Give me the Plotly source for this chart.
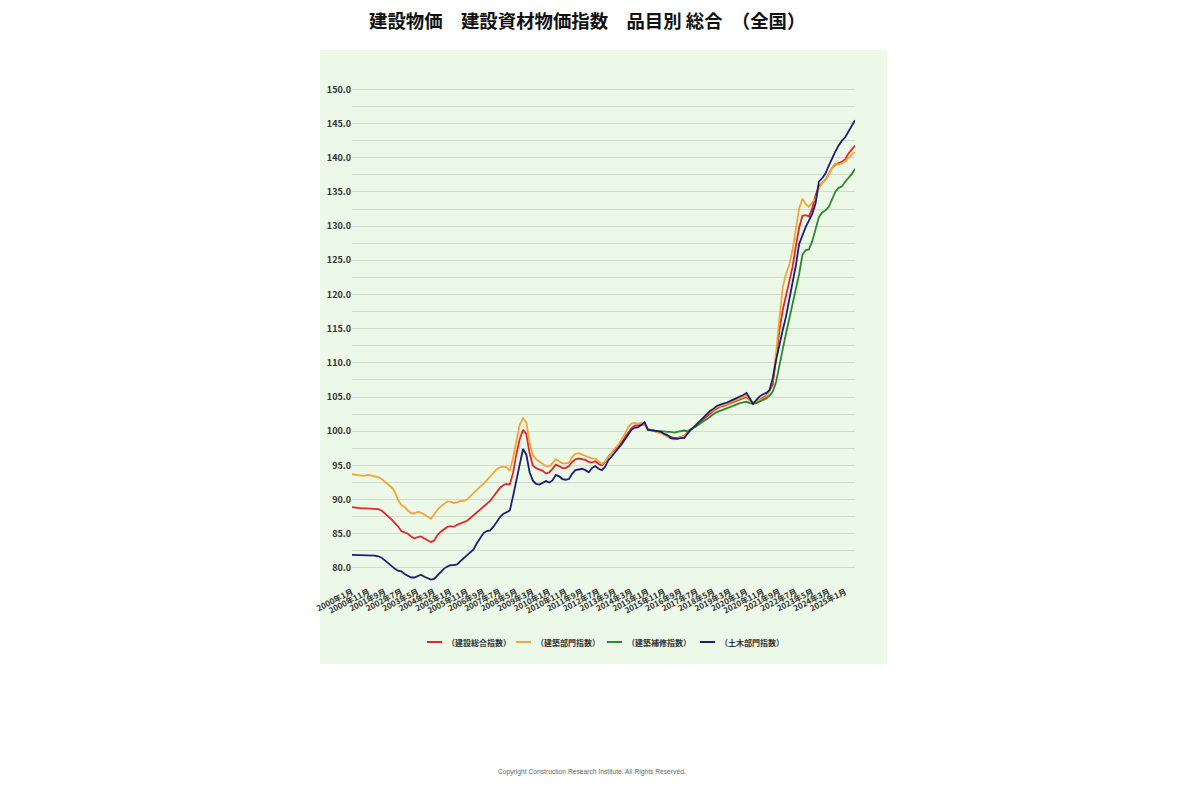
import re
import pandas as pd
import plotly.graph_objects as go

# ---------------- data (bi-monthly readings, 2000年1月 .. 2025年7月) ----------------
START = "2000-01-01"
END = "2025-07-01"
GREEN_START = "2015-01-01"

TITLE = "建設物価　建設資材物価指数　品目別 総合　（全国）"
SERIES_NAMES = ["（建設総合指数）", "（建築部門指数）", "（建築補修指数）", "（土木部門指数）"]

sogo = [
    88.9, 88.8, 88.7, 88.7, 88.7, 88.7, 88.7, 88.7, 88.6, 88.4,
    88.0, 87.5, 87.1, 86.6, 86.1, 85.4, 85.2, 85.0, 84.6, 84.3,
    84.5, 84.6, 84.3, 84.1, 83.8, 84.0, 84.8, 85.3, 85.7, 86.0,
    86.1, 86.0, 86.3, 86.5, 86.7, 86.9, 87.3, 87.7, 88.1, 88.5,
    89.0, 89.4, 89.8, 90.4, 91.1, 91.7, 92.1, 92.3, 92.2, 93.9,
    96.6, 98.8, 100.2, 99.6, 96.8, 95.0, 94.6, 94.4, 94.2, 93.8,
    94.0, 94.5, 95.1, 94.9, 94.6, 94.6, 94.9, 95.5, 95.9, 96.0,
    95.9, 95.8, 95.5, 95.4, 95.6, 95.2, 95.0, 95.5, 96.3, 96.8,
    97.3, 97.8, 98.4, 99.1, 99.8, 100.4, 100.8, 100.9, 101.0, 101.0,
    100.3, 100.2, 100.1, 99.9, 99.8, 99.5, 99.3, 99.1, 99.0, 99.0,
    99.1, 99.3, 99.8, 100.2, 100.6, 101.0, 101.4, 101.9, 102.3, 102.6,
    103.0, 103.3, 103.6, 103.7, 103.9, 104.1, 104.3, 104.4, 104.6, 104.8,
    105.0, 104.5, 104.1, 104.3, 104.6, 104.9, 105.2, 105.9, 106.8, 110.8,
    114.8, 117.7, 119.8, 121.6, 124.0, 127.0, 129.8, 131.5, 131.6, 131.4,
    132.6, 134.5, 135.8, 136.3, 136.8, 137.6, 138.5, 139.0, 139.2, 139.4,
    139.8, 140.6, 141.2, 141.8,
]

kenchiku = [
    93.7, 93.6, 93.5, 93.5, 93.5, 93.6, 93.5, 93.4, 93.3, 93.0,
    92.6, 92.2, 91.8, 91.2, 90.0, 89.2, 88.9, 88.4, 88.0, 88.0,
    88.2, 88.1, 87.8, 87.6, 87.2, 87.8, 88.5, 89.0, 89.4, 89.7,
    89.7, 89.5, 89.6, 89.8, 89.8, 90.0, 90.5, 91.0, 91.4, 91.9,
    92.3, 92.8, 93.4, 93.9, 94.4, 94.7, 94.8, 94.7, 94.2, 96.1,
    98.8, 100.9, 101.9, 101.3, 98.3, 96.5, 95.9, 95.5, 95.2, 94.9,
    94.9, 95.3, 95.9, 95.6, 95.3, 95.3, 95.4, 96.2, 96.7, 96.8,
    96.6, 96.4, 96.1, 96.0, 96.0, 95.6, 95.2, 95.6, 96.3, 96.9,
    97.5, 98.0, 98.8, 99.6, 100.6, 101.1, 101.2, 101.1, 101.2, 101.0,
    100.4, 100.2, 100.0, 99.8, 99.7, 99.4, 99.2, 98.9, 98.8, 98.9,
    99.1, 99.3, 99.8, 100.3, 100.7, 101.1, 101.6, 102.1, 102.5, 102.8,
    103.2, 103.5, 103.7, 103.8, 104.0, 104.2, 104.4, 104.6, 104.8, 104.9,
    105.2, 104.6, 104.2, 104.4, 104.5, 104.7, 105.0, 106.0, 107.5, 111.5,
    116.5, 121.0, 123.0, 124.3, 126.5, 129.4, 132.6, 134.0, 133.2, 132.8,
    133.5, 134.0, 135.5, 136.3, 136.8, 137.5, 138.5, 139.2, 139.0, 139.2,
    139.5, 140.0, 140.5, 140.8,
]

hoshu = [
    100.2, 100.1, 100.1, 100.0, 100.0, 99.9, 99.9, 99.9, 99.8, 99.9,
    100.0, 100.1, 100.0, 100.2, 100.5, 100.8, 101.2, 101.5, 101.8, 102.2,
    102.5, 102.8, 103.0, 103.2, 103.4, 103.6, 103.8, 104.0, 104.1, 104.2,
    104.3, 104.1, 104.0, 104.1, 104.3, 104.6, 104.8, 105.2, 105.8, 107.2,
    109.8, 112.0, 114.3, 116.3, 118.5, 120.6, 123.0, 125.8, 126.5, 126.6,
    127.8, 129.5, 131.3, 132.0, 132.3, 132.8, 134.0, 135.0, 135.6, 135.8,
    136.5, 137.0, 137.6, 138.4,
]

doboku = [
    81.9, 81.9, 81.9, 81.8, 81.9, 81.8, 81.8, 81.8, 81.7, 81.5,
    81.1, 80.7, 80.2, 79.9, 79.6, 79.5, 79.1, 78.8, 78.6, 78.6,
    78.8, 79.0, 78.7, 78.5, 78.3, 78.4, 78.9, 79.5, 79.9, 80.2,
    80.4, 80.4, 80.5, 81.0, 81.4, 81.8, 82.2, 82.7, 83.6, 84.4,
    85.1, 85.4, 85.5, 86.0, 86.8, 87.4, 87.9, 88.2, 88.4, 90.5,
    92.8, 94.9, 97.4, 96.6, 94.0, 92.8, 92.3, 92.2, 92.5, 92.7,
    92.5, 92.8, 93.6, 93.4, 93.0, 92.9, 93.0, 93.8, 94.3, 94.4,
    94.5, 94.3, 94.0, 94.6, 94.9, 94.5, 94.3, 94.8, 95.8, 96.3,
    96.9, 97.4, 98.1, 98.8, 99.6, 100.2, 100.5, 100.6, 100.9, 101.3,
    100.2, 100.2, 100.1, 100.0, 99.9, 99.6, 99.4, 99.0, 98.9, 98.9,
    99.0, 99.0, 99.6, 100.2, 100.6, 101.1, 101.6, 102.1, 102.6, 103.0,
    103.3, 103.7, 103.9, 104.0, 104.2, 104.4, 104.6, 104.8, 105.0, 105.3,
    105.6, 104.8, 104.0, 104.6, 105.1, 105.4, 105.6, 106.0, 107.8, 110.4,
    112.8, 114.8, 116.8, 119.2, 121.6, 124.2, 127.4, 128.8, 129.9, 130.8,
    131.8, 133.3, 136.5, 137.0, 137.7, 138.8, 139.9, 140.9, 141.8, 142.5,
    143.0, 143.8, 144.7, 145.5,
]

TICK_LABELS = [
    "2000年1月", "2000年11月", "2001年9月", "2002年7月", "2003年5月", "2004年3月",
    "2005年1月", "2005年11月", "2006年9月", "2007年7月", "2008年5月", "2009年3月",
    "2010年1月", "2010年11月", "2011年9月", "2012年7月", "2013年5月", "2014年3月",
    "2015年1月", "2015年11月", "2016年9月", "2017年7月", "2018年5月", "2019年3月",
    "2020年1月", "2020年11月", "2021年9月", "2022年7月", "2023年5月", "2024年3月",
    "2025年1月",
]

Y_TICKS = [77.5 + 2.5 * k for k in range(30)]

COLORS = ["#e0282c", "#f2a634", "#2a8a2a", "#1b1f72"]

# ---------------- figure ----------------
dates = pd.date_range(START, END, freq="2MS")
green_dates = pd.date_range(GREEN_START, END, freq="2MS")

def label_to_date(s):
    y, m = re.match(r"(\d+)年(\d+)月", s).groups()
    return f"{int(y):04d}-{int(m):02d}-01"

tickvals = [label_to_date(s) for s in TICK_LABELS]

fig = go.Figure()
series = [(dates, sogo), (dates, kenchiku), (green_dates, hoshu), (dates, doboku)]
for (xs, ys), name, col in zip(series, SERIES_NAMES, COLORS):
    fig.add_trace(go.Scatter(x=xs, y=ys, name=name, mode="lines", showlegend=False,
                             line=dict(color=col, width=1.8)))

# page has an 8px body margin; plot area on the page spans x 352..855, y 86..585
BODY = 8
W, H = 1200, 800
PLOT_L, PLOT_R, PLOT_T, PLOT_B = 352, 855, 86, 585
pw, ph = PLOT_R - PLOT_L, PLOT_B - PLOT_T
ML, MT = PLOT_L - BODY, PLOT_T - BODY
MR, MB = W - ML - pw, H - MT - ph

def px_x(x):
    return (x - PLOT_L) / pw

def px_y(y):
    return (PLOT_B - y) / ph

fig.add_shape(type="rect", xref="paper", yref="paper",
              x0=px_x(320), x1=px_x(887), y0=px_y(664), y1=px_y(50),
              fillcolor="#edf9e8", line=dict(width=0), layer="below")

# title as an annotation
fig.add_annotation(text=TITLE, xref="paper", yref="paper",
                   x=px_x(587), y=px_y(20), showarrow=False,
                   xanchor="center", yanchor="middle",
                   font=dict(family="Noto Sans CJK JP, sans-serif", size=18.4,
                             color="#111111", weight=700))

# manual legend (short line samples like the reference)
LEG_Y = 642
LEG_LINE_X = [427, 516, 607, 700]
for lx, name, col in zip(LEG_LINE_X, SERIES_NAMES, COLORS):
    fig.add_shape(type="line", xref="paper", yref="paper",
                  x0=px_x(lx), x1=px_x(lx + 15), y0=px_y(LEG_Y), y1=px_y(LEG_Y),
                  line=dict(color=col, width=2))
    fig.add_annotation(text=name, xref="paper", yref="paper",
                       x=px_x(lx + 18), y=px_y(LEG_Y), showarrow=False,
                       xanchor="left", yanchor="middle",
                       font=dict(family="Noto Sans CJK JP, sans-serif", size=8,
                                 color="#333333", weight=700))

fig.add_annotation(text="Copyright Construction Research Institute. All Rights Reserved.",
                   xref="paper", yref="paper", x=px_x(592), y=px_y(772),
                   showarrow=False, xanchor="center", yanchor="middle",
                   font=dict(family="Liberation Sans Narrow, Liberation Sans, sans-serif",
                             size=6.7, color="#666666"))

bold = dict(family="Noto Sans CJK JP, sans-serif", size=9, color="#333333", weight=700)

fig.update_layout(
    width=W, height=H,
    margin=dict(l=ML, r=MR, t=MT, b=MB),
    paper_bgcolor="white",
    plot_bgcolor="rgba(0,0,0,0)",
    showlegend=False,
    xaxis=dict(type="date", range=[START, END], tickvals=tickvals, ticktext=TICK_LABELS,
               tickangle=-27, showgrid=False, zeroline=False, showline=False,
               ticks="", tickfont=dict(bold, size=8)),
    yaxis=dict(range=[77.5, 150.5], tickvals=Y_TICKS,
               ticktext=[f"{v:.1f}" if abs(v % 5) < 1e-9 else "" for v in Y_TICKS],
               showgrid=True, gridcolor="#d2dccd", gridwidth=1, zeroline=False,
               showline=False, ticks="", tickfont=bold),
    hovermode=False,
)

fig.write_html("out.html")
